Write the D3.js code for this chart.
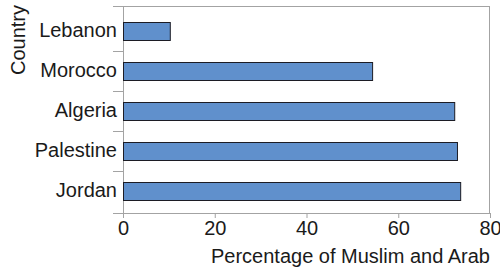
<!DOCTYPE html>
<html>
<head>
<meta charset="utf-8">
<script src="https://cdn.jsdelivr.net/npm/d3@7"></script>
<style>
  body { margin: 0; background: #fff; }
  text { font-family: "Liberation Sans", Arial, Helvetica, sans-serif; fill: #1a1a1a; }
</style>
</head>
<body>
<svg id="chart"></svg>
<script>
const countries = ['Lebanon', 'Morocco', 'Algeria', 'Palestine', 'Jordan'];
const percentages = [10.2, 54.3, 72.2, 72.8, 73.5];
const xTicks = [0, 20, 40, 60, 80];

const svg = d3.select('#chart').attr('width', 500).attr('height', 267);

const plotLeft = 123, plotRight = 490, plotTop = 6, plotBottom = 213;
const fontSize = '20px';

const x = d3.scaleLinear().domain([0, 80]).range([plotLeft, plotRight]);
const y = d3.scaleBand().domain(countries).range([11, 211])
  .paddingInner(0.55).paddingOuter(0.275);

// frame
const frameG = svg.append('g').attr('fill', 'none').attr('stroke', '#a3a3a3').attr('stroke-width', 1);
frameG.append('rect')
  .attr('x', plotLeft + 0.5).attr('y', plotTop + 0.5)
  .attr('width', plotRight - plotLeft - 1).attr('height', plotBottom - plotTop);
frameG.append('line').attr('x1', 113).attr('x2', plotLeft).attr('y1', plotTop + 0.5).attr('y2', plotTop + 0.5);
frameG.append('line').attr('x1', 113).attr('x2', plotLeft).attr('y1', plotBottom + 0.5).attr('y2', plotBottom + 0.5);

// category boundary ticks
const bounds = countries.slice(1).map(c => y(c) - y.step() * y.paddingInner() / 2);
frameG.selectAll('line.ytick')
  .data(bounds)
  .enter()
  .append('line')
  .attr('class', 'ytick')
  .attr('x1', 113).attr('x2', plotLeft)
  .attr('y1', d => Math.round(d) + 0.5).attr('y2', d => Math.round(d) + 0.5);

// x axis
const xAxis = svg.append('g')
  .attr('transform', `translate(0,${plotBottom})`)
  .call(d3.axisBottom(x).tickValues(xTicks).tickSize(5).tickSizeOuter(0));
xAxis.select('.domain').remove();
xAxis.selectAll('.tick line').attr('stroke', '#a3a3a3');
xAxis.selectAll('.tick text')
  .attr('y', 22).attr('dy', 0)
  .style('font-size', fontSize)
  .attr('fill', '#1a1a1a');

// y labels
const yAxis = svg.append('g')
  .attr('transform', `translate(${plotLeft},0)`)
  .call(d3.axisLeft(y).tickSize(0).tickPadding(6));
yAxis.select('.domain').remove();
yAxis.selectAll('.tick text')
  .attr('dy', '0.3em')
  .style('font-size', fontSize)
  .attr('fill', '#1a1a1a');

// bars
svg.append('g').selectAll('rect')
  .data(countries)
  .enter()
  .append('rect')
  .attr('x', x(0) + 0.5)
  .attr('y', (d) => Math.round(y(d)) + 0.5)
  .attr('width', (d, i) => x(percentages[i]) - x(0))
  .attr('height', y.bandwidth())
  .attr('fill', '#6090cc')
  .attr('stroke', '#1c1c24')
  .attr('stroke-width', 1);

// axis titles
svg.append('text')
  .attr('x', plotRight).attr('y', 263)
  .attr('text-anchor', 'end')
  .style('font-size', fontSize)
  .text('Percentage of Muslim and Arab');

svg.append('text')
  .attr('transform', 'translate(25,5) rotate(-90)')
  .attr('text-anchor', 'end')
  .style('font-size', fontSize)
  .text('Country');
</script>
</body>
</html>
